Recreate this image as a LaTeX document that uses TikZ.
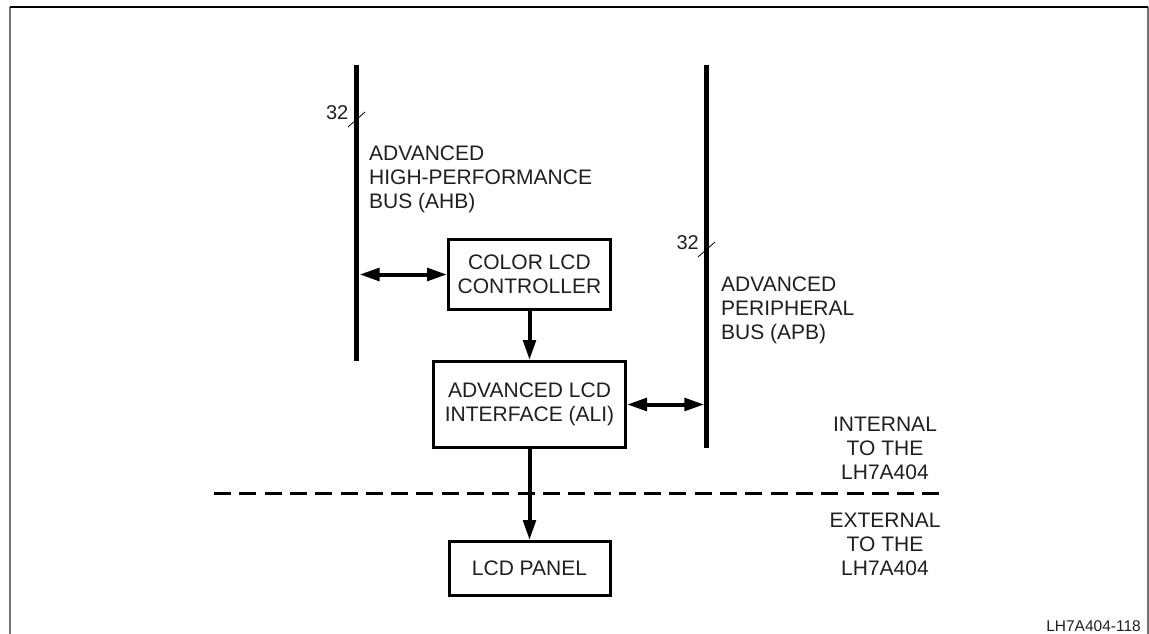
\documentclass[tikz,border=0pt]{standalone}
\usepackage{fontspec}
\setmainfont{Liberation Sans}
\usetikzlibrary{arrows.meta}
\begin{document}
\begin{tikzpicture}[x=1pt,y=-1pt,
  txt/.style={font=\fontsize{21}{23.8}\selectfont, text=black!88, inner sep=0pt},
  boxnode/.style={draw, line width=3pt, txt, align=center},
  busline/.style={line width=5pt},
  tick/.style={line width=0.8pt},
  tip/.style={Triangle[length=20pt,width=12.5pt]},
  arr/.style={line width=4pt, -{Triangle[length=20pt,width=12.5pt]}},
  darr/.style={line width=4pt, {Triangle[length=20pt,width=12.5pt]}-{Triangle[length=20pt,width=12.5pt]}}]
\useasboundingbox (0,0) rectangle (1149,634);
% frame
\coordinate (fbl) at (10,634);
\coordinate (ftl) at (10,7);
\coordinate (ftr) at (1148,7);
\coordinate (fbr) at (1148,634);
\draw[line width=2pt, black!55] (fbl) -- (ftl);
\draw[line width=2pt, black!55] (ftr) -- (fbr);
\draw[line width=1.2pt] (ftl) -- (ftr);
% buses
\coordinate (ahbT) at (356.7,65);
\coordinate (ahbB) at (356.7,361);
\coordinate (apbT) at (706.7,65);
\coordinate (apbB) at (706.7,448);
\draw[busline] (ahbT) -- (ahbB);
\draw[busline] (apbT) -- (apbB);
% bus width ticks
\coordinate (t1a) at (348,127);
\coordinate (t1b) at (365,112);
\coordinate (t2a) at (698,257);
\coordinate (t2b) at (715,242);
\draw[tick] (t1a) -- (t1b);
\draw[tick] (t2a) -- (t2b);
\node[txt, font=\fontsize{20}{22}\selectfont, anchor=south east] (w1) at (348.5,120) {32};
\node[txt, font=\fontsize{20}{22}\selectfont, anchor=south east] (w2) at (699,250) {32};
% bus labels
\node[txt, anchor=north west, align=left] (ahblab) at (369,146) {ADVANCED\\HIGH-PERFORMANCE\\BUS (AHB)};
\node[txt, anchor=north west, align=left] (apblab) at (721,277) {ADVANCED\\PERIPHERAL\\BUS (APB)};
% boxes
\node[boxnode, minimum width=162pt, minimum height=70pt] (ctrl) at (529.5,274.5) {COLOR LCD\\CONTROLLER};
\node[boxnode, minimum width=192pt, minimum height=86pt] (ali) at (529.5,404.5) {ADVANCED LCD\\INTERFACE (ALI)};
\node[boxnode, minimum width=161pt, minimum height=54pt] (lcd) at (529.5,568.5) {LCD PANEL};
% dashed boundary
\coordinate (dL) at (214,493);
\coordinate (dR) at (943,493);
\draw[line width=3pt, dash pattern=on 17pt off 8.3pt] (dL) -- (dR);
% connectors
\coordinate (ahbR) at (359.5,274.5);
\coordinate (apbL) at (704.3,404.5);
\draw[darr] (ahbR) -- (ctrl.west);
\draw[darr] (ali.east) -- (apbL);
\draw[arr] (ctrl.south) -- (ali.north);
\draw[arr] (ali.south) -- (lcd.north);
% side labels
\node[txt, anchor=north, align=center] (intl) at (885,417) {INTERNAL\\TO THE\\LH7A404};
\node[txt, anchor=north, align=center] (extl) at (885,513) {EXTERNAL\\TO THE\\LH7A404};
\node[txt, font=\fontsize{15.5}{18}\selectfont, anchor=south east] (fig) at (1141,632) {LH7A404-118};
\end{tikzpicture}
\end{document}
